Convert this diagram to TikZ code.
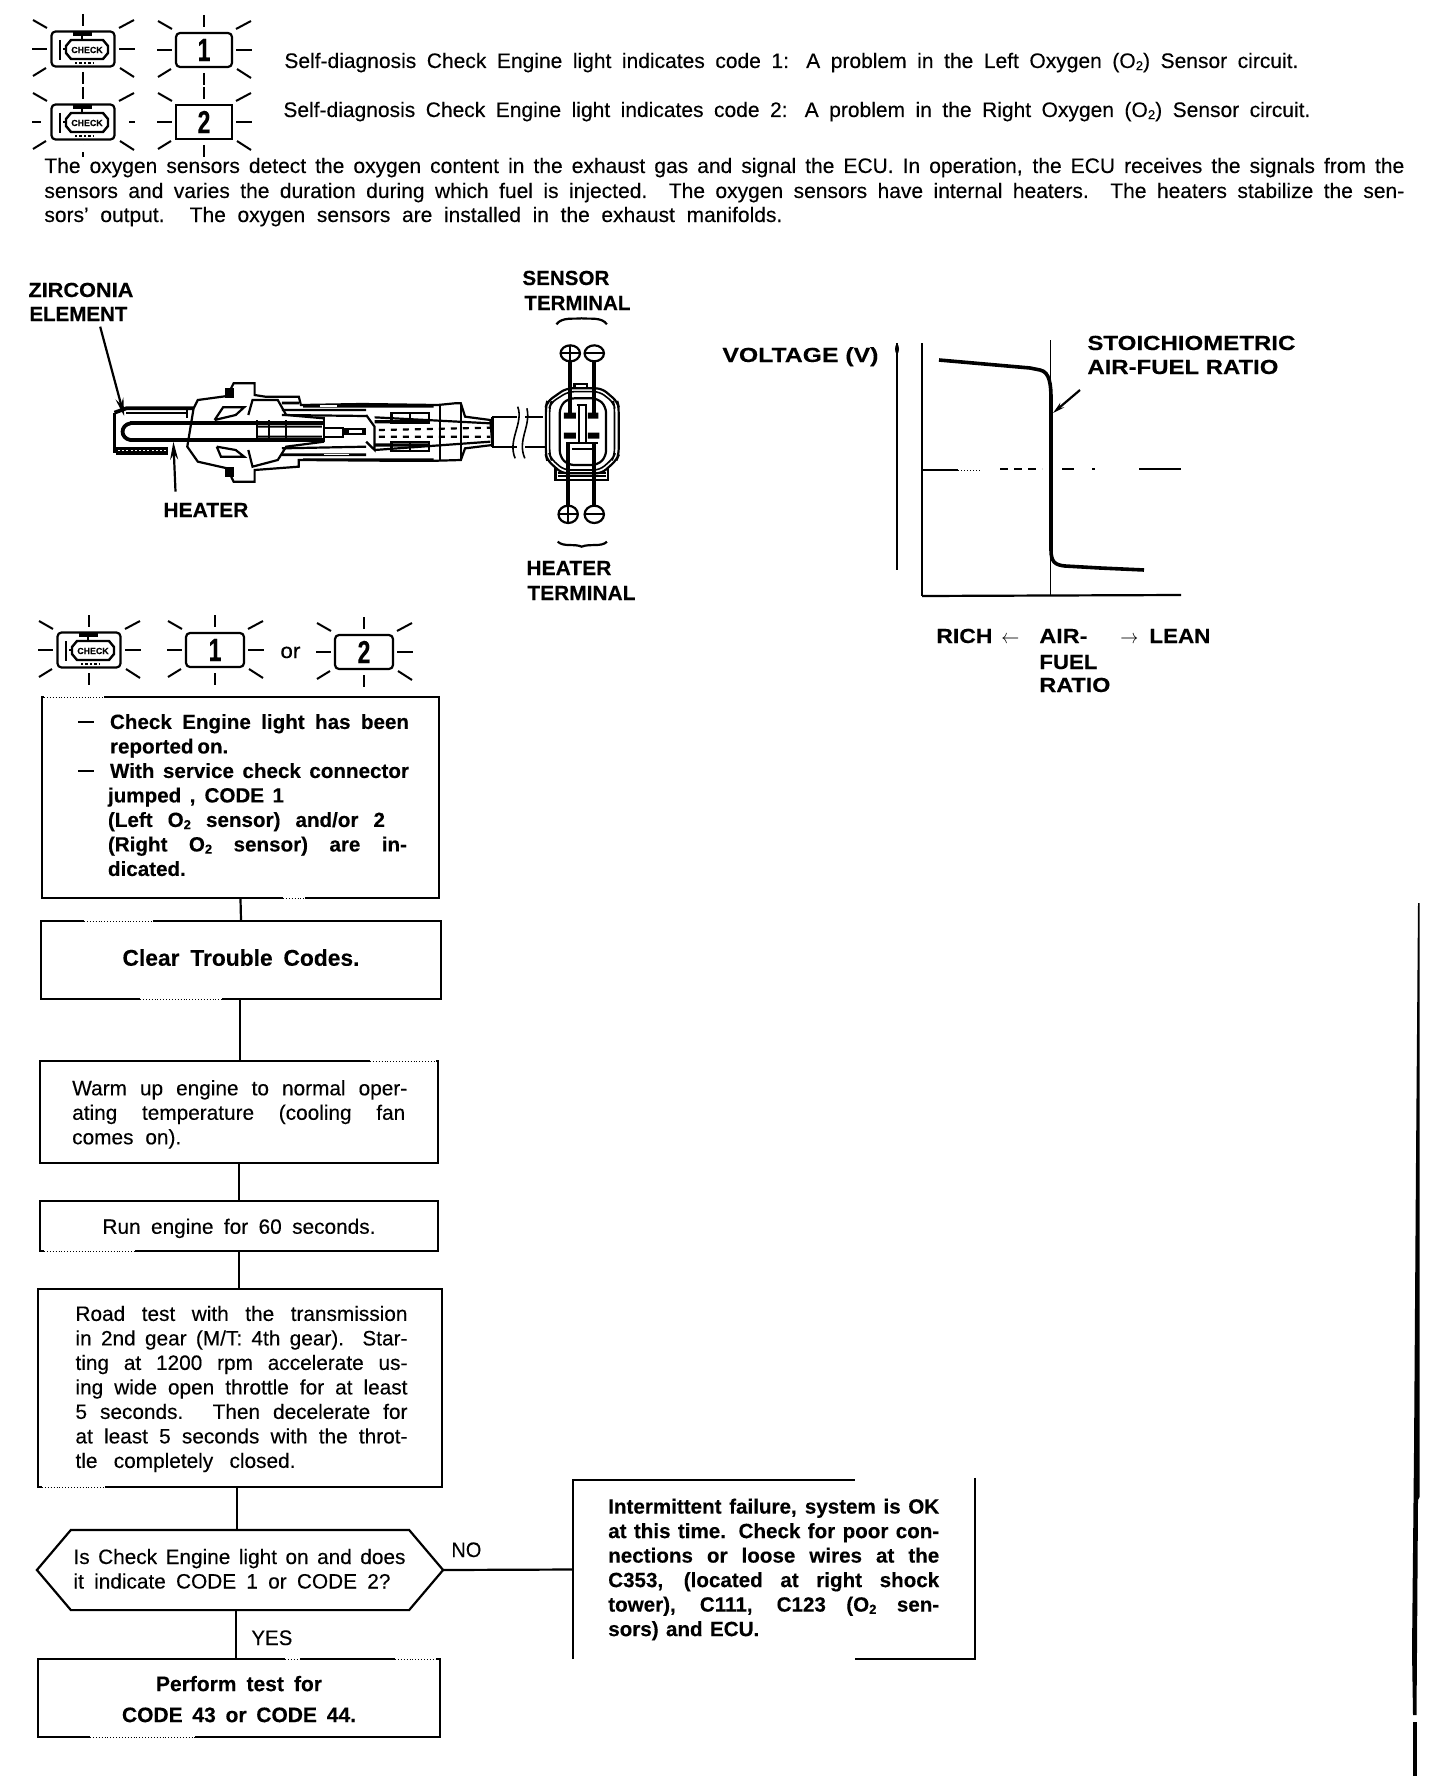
\documentclass[tikz,border=0pt]{standalone}
\usepackage{fontspec}
\setmainfont{Liberation Sans}[FakeBold=0.25,BoldFeatures={FakeBold=0.25}]
\usetikzlibrary{arrows.meta}
\newcommand{\PX}[1]{\dimexpr #1pt/2\relax}
\newcommand{\jl}[2]{\makebox[\PX{#1}][s]{#2}}
\newcommand{\fitw}[2]{\resizebox{\PX{#1}}{\height}{#2}}
\newcommand{\vmove}[2]{\raisebox{#1}[\height][\depth]{#2}}
\newcommand{\Otwo}{O\raisebox{-0.2ex}{\fontsize{6.5}{6.5}\selectfont 2}}
\newcommand{\blockx}[3]{\hspace*{\PX{#1}}\begin{minipage}{\PX{#2}}\raggedright #3\end{minipage}}
\newcommand{\bignum}[1]{\scalebox{.72}[1]{\fontsize{16}{16}\selectfont\bfseries #1}}
\newcommand{\worn}[3]{\draw[white,line width=1.7pt] (#1,#3)--(#2,#3); \draw[line width=.45pt,densely dotted] (#1,#3)--(#2,#3);}
\newcommand{\rays}[3]{%
  \begin{scope}[shift={(#1,#2)},line width=1pt]
  \draw (0,-35)--(0,-23) (0,23)--(0,35);
  \draw (-#3-19,0)--(-#3-4,0) (#3+4,0)--(#3+20,0);
  \draw (-#3-18,-29)--(-#3-4,-21) (#3+4,-21)--(#3+19,-29);
  \draw (-#3-18,27)--(-#3-5,19) (#3+5,19)--(#3+19,28);
  \end{scope}}
\newcommand{\engine}[3]{%
  \node[iconbox,minimum width=31.5pt,minimum height=17.5pt] (#1) at (#2,#3) {};
  \begin{scope}[shift={(#2,#3)}]
  \draw[line width=1.2pt] (-23,-9)--(-23,11);
  \draw[line width=1.2pt] (-20,0)--(-17,0);
  \draw[line width=1.2pt] (-17,-3)--(-12,-9)--(20,-9)--(25,-3)--(25,4)--(20,10)--(-12,10)--(-17,4)--cycle;
  \draw[line width=1.8pt] (-10,-15)--(9,-15);
  \draw[line width=1.2pt] (-1,-15)--(-1,-9);
  \draw[line width=1.2pt,densely dotted] (-8,14)--(10,14);
  \node[inner sep=0pt,font=\fontsize{4.4}{5}\selectfont\bfseries] (#1t) at (4,1) {CHECK};
  \end{scope}}
\tikzset{
  flow/.style={draw,line width=1.1pt,inner sep=0pt,font=\fontsize{10.4}{12.25}\selectfont},
  flowb/.style={flow,font=\fontsize{10.3}{12.25}\selectfont\bfseries},
  conn/.style={line width=1.1pt},
  txt/.style={inner sep=0pt,anchor=base west,font=\fontsize{10.5}{12}\selectfont},
  lab/.style={inner sep=0pt,anchor=base west,font=\fontsize{10.2}{12}\selectfont\bfseries},
  iconbox/.style={draw,line width=1.1pt,rounded corners=2pt,inner sep=0pt},
  numbox/.style={iconbox,minimum width=28pt,minimum height=17pt},
  sth/.style={line width=0.8pt},
  sm/.style={line width=1.1pt},
  sk/.style={line width=1.9pt},
}
\begin{document}
\begin{tikzpicture}[x=0.5pt,y=-0.5pt]
\useasboundingbox (0,0) rectangle (1440,1776);
\fill[white] (0,0) rectangle (1440,1776);

% top icons
\rays{83}{49}{32}\engine{e1}{83}{49}
\rays{204}{50}{28}\node[numbox] (n1) at (204,50) {\bignum{1}};
\rays{83}{122}{32}\engine{e2}{83}{122}
\rays{204}{122}{28}\node[numbox,rounded corners=0pt] (n2) at (204,122) {\bignum{2}};
\draw[white,line width=2pt] (40,122)--(49,122) (117,122)--(129,122) (83,145)--(83,152);
\draw[line width=.8pt,densely dotted] (33,122)--(41,122);

% top text
\node[txt] (s1) at (284,68) {\jl{1014}{Self-diagnosis Check Engine light indicates code 1: A problem in the Left Oxygen (\Otwo) Sensor circuit.}};
\node[txt] (s2) at (283,117) {\jl{1027}{Self-diagnosis Check Engine light indicates code 2: A problem in the Right Oxygen (\Otwo) Sensor circuit.}};
\node[txt] (p1) at (44,173) {\jl{1360}{The oxygen sensors detect the oxygen content in the exhaust gas and signal the ECU. In operation, the ECU receives the signals from the}};
\node[txt] (p2) at (44,198) {\jl{1360}{sensors and varies the duration during which fuel is injected. The oxygen sensors have internal heaters. The heaters stabilize the sen-}};
\node[txt] (p3) at (44,222) {\jl{738}{sors' output. The oxygen sensors are installed in the exhaust manifolds.}};

% sensor labels
\node[lab] (z1) at (28,297) {\fitw{105}{ZIRCONIA}};
\node[lab] (z2) at (29,321) {\fitw{98}{ELEMENT}};
\node[lab] (h1) at (163,517) {\fitw{85}{HEATER}};
\node[lab] (st1) at (522,285) {\fitw{87}{SENSOR}};
\node[lab] (st2) at (524,310) {\fitw{106}{TERMINAL}};
\node[lab] (ht1) at (526,575) {\fitw{85}{HEATER}};
\node[lab] (ht2) at (527,600) {\fitw{108}{TERMINAL}};

% sensor drawing (coordinates of a local grid)
\begin{scope}[shift={(0,260)},x=0.21044pt,y=-0.16667pt]
  % shell
  \draw[sm,fill=white] (445,560)--(460,445)--(470,420)--(540,408)--(555,370)--(605,370)--(605,405)--(630,410)--(710,410)--(715,435)--(860,432)--(1040,435)--(1080,430)--(1095,430)--(1105,470)--(1165,480)--(1170,555)--(1105,565)--(1095,600)--(1040,602)--(910,602)--(710,600)--(710,620)--(605,630)--(605,665)--(555,665)--(540,625)--(470,605)--cycle;
  % wire and break
  \draw[sm] (1170,470)--(1290,470) (1170,560)--(1295,560) (1170,470)--(1170,560);
  \fill[white] (1228,440) rectangle (1248,595);
  \draw[sth] (1230,440) .. controls (1245,490) and (1205,540) .. (1224,595);
  \draw[sth] (1252,445) .. controls (1262,500) and (1228,540) .. (1247,595);
  % tip
  \draw[sk] (272,458)--(272,580);
  \draw[sk] (272,458)--(300,445)--(460,445);
  \draw[sm] (300,458)--(445,458) (445,445)--(445,475);
  \fill (275,562) rectangle (400,570);
  \draw[sk] (275,580)--(400,580);
  \draw[sm,densely dotted] (275,574)--(400,574);
  % inner tube
  \draw[sk] (310,490)--(770,490) (310,540)--(770,540);
  \draw[sk] (310,490) .. controls (285,495) and (285,535) .. (310,540);
  \draw[sm] (610,480)--(610,545) (640,480)--(640,545) (680,480)--(680,545);
  \fill (610,497) rectangle (765,503) (610,527) rectangle (765,533);
  \draw[sm] (770,470)--(770,545) (770,503)--(815,503)--(815,530)--(770,530);
  \fill (815,505) rectangle (870,525);
  \fill[white] (830,510) rectangle (860,520);
  % upper details
  \draw[sm] (510,480)--(530,442)--(580,442)--(560,465)--(510,480);
  \fill (535,385) rectangle (555,415);
  \draw[sm] (590,465)--(600,420)--(660,420)--(680,465)--(770,475);
  \fill (670,425) rectangle (710,433) (720,435) rectangle (1030,443);
  \fill[white] (760,436) rectangle (800,441);
  \draw[sm] (670,450)--(870,450) (670,465)--(870,468);
  % lower details
  \draw[sm] (515,560)--(525,590)--(580,590)--(560,570)--(515,560);
  \fill (535,620) rectangle (555,650);
  \draw[sm] (590,570)--(600,620)--(660,600)--(680,560)--(770,545);
  \fill (670,580) rectangle (870,588) (720,595) rectangle (1030,602);
  \fill[white] (770,582) rectangle (830,586);
  \draw[sm] (670,565)--(870,560);
  % rear details
  \draw[sm] (870,465)--(890,500)--(890,570)--(870,545);
  \fill (890,480) rectangle (1020,490) (890,550) rectangle (1020,560);
  \draw[sm] (930,458) rectangle (1020,490) (975,458)--(975,490);
  \draw[sm] (930,545) rectangle (1020,572) (975,545)--(975,572);
  \draw[sm] (890,472)--(1165,490) (890,570)--(1165,545);
  \draw[sm,dashed] (900,510)--(1165,503) (900,530)--(1165,530);
  \draw[sth] (1045,435)--(1045,600) (1095,435)--(1095,600);
  % connector
  \draw[sm] (1320,610)--(1320,660)--(1445,660)--(1445,610);
  \fill (1325,618) rectangle (1440,630);
  \draw[sm] (1325,638)--(1440,638) (1325,648)--(1440,648);
  \draw[sm,rounded corners=3pt,fill=white] (1297,440)--(1300,425)--(1345,385)--(1430,385)--(1467,425)--(1470,440)--(1470,585)--(1465,600)--(1430,640)--(1335,640)--(1300,600)--(1297,585)--cycle;
  \draw[sth,rounded corners=3pt] (1306,440)--(1309,428)--(1350,395)--(1425,395)--(1458,428)--(1460,440)--(1460,585)--(1456,596)--(1425,630)--(1340,630)--(1309,596)--(1306,585)--cycle;
  \draw[sm,rounded corners=3pt] (1330,440)--(1350,415)--(1420,415)--(1440,440)--(1440,590)--(1420,615)--(1350,615)--(1330,590)--cycle;
  \draw[sm] (1365,385)--(1365,372)--(1395,372)--(1395,385);
  \fill (1340,458) rectangle (1368,476) (1397,458) rectangle (1422,476);
  \fill (1340,518) rectangle (1368,536) (1397,518) rectangle (1424,536);
  \draw[sm] (1372,435)--(1395,435) (1375,435)--(1375,550) (1392,435)--(1392,550);
  \draw[sm] (1350,550)--(1420,550) (1360,568)--(1415,568);
  % terminals
  \draw[sm] (1355,280) ellipse [x radius=23,y radius=24];
  \draw[sm] (1412,280) ellipse [x radius=23,y radius=24];
  \draw[sm] (1332,280)--(1378,280) (1355,256)--(1355,304) (1389,280)--(1435,280);
  \draw[sm] (1350,763) ellipse [x radius=23,y radius=26];
  \draw[sm] (1412,763) ellipse [x radius=23,y radius=26];
  \draw[sm] (1327,763)--(1373,763) (1350,737)--(1350,789) (1389,763)--(1435,763);
  \draw[sk] (1355,304)--(1355,460) (1412,304)--(1412,460);
  \draw[sk] (1350,737)--(1350,545) (1412,737)--(1412,545);
  % braces
  \draw[sm] (1322,193) .. controls (1335,170) and (1365,178) .. (1382,175) .. controls (1400,178) and (1430,170) .. (1442,193);
  \draw[sm] (1325,845) .. controls (1340,862) and (1365,850) .. (1382,860) .. controls (1400,850) and (1430,862) .. (1442,845);
  % leaders
  \coordinate (ztip) at (295,468);
  \coordinate (htip) at (412,545);
  \coordinate (zfoot) at (238,200);
  \coordinate (hfoot) at (417,695);
  \draw[sm,-{Stealth[length=9pt,width=4pt]}] (zfoot)--(ztip);
  \draw[sm,-{Stealth[length=9pt,width=4pt]}] (hfoot)--(htip);
\end{scope}

% graph
\node[lab] (vlt) at (722,362) {\fitw{156}{VOLTAGE (V)}};
\coordinate (yt) at (897,343);
\coordinate (yb) at (897,570);
\draw[sm] (yt)--(yb);
\fill (897,349) ellipse [x radius=1pt,y radius=2.5pt];
\coordinate (o) at (922,596);
\coordinate (ot) at (922,343);
\coordinate (xe) at (1181,595);
\draw[line width=.7pt] (ot)--(o);
\draw[sm] (o)--(xe);
\coordinate (st) at (1050,340);
\coordinate (sb) at (1050,596);
\draw[line width=.5pt] (st)--(sb);
\draw[line width=.9pt] (922,470)--(958,470) (1139,469)--(1181,469);
\draw[line width=.5pt,densely dotted] (958,470)--(980,470);
\draw[line width=.7pt,dash pattern=on 4pt off 3pt] (1000,469)--(1042,469);
\draw[line width=.8pt] (1062,469)--(1074,469) (1092,469)--(1095,469);
\draw[line width=1.8pt] (939,360)--(1030,368)--(1040,370) .. controls (1050,372) and (1051,385) .. (1051,400)--(1051,550) .. controls (1051,562) and (1055,565) .. (1065,566)--(1100,568)--(1144,570);
\coordinate (la) at (1080,390);
\coordinate (lb) at (1053,413);
\draw[sm,-{Stealth[length=6pt,width=3pt]}] (la)--(lb);
\node[lab] (g1) at (1087,350) {\fitw{208}{STOICHIOMETRIC}};
\node[lab] (g2) at (1087,374) {\fitw{191}{AIR-FUEL RATIO}};
\node[lab] (g3) at (936,643) {\fitw{56}{RICH}};
\node[inner sep=0pt,anchor=base west] (g4) at (1001,643) {\fitw{18}{$\leftarrow$}};
\node[lab] (g5) at (1039,643) {\fitw{48}{AIR-}};
\node[inner sep=0pt,anchor=base west] (g6) at (1120,643) {\fitw{18}{$\rightarrow$}};
\node[lab] (g7) at (1149,643) {\fitw{61}{LEAN}};
\node[lab] (g8) at (1039,669) {\fitw{58}{FUEL}};
\node[lab] (g9) at (1039,692) {\fitw{71}{RATIO}};

% code row above the flow chart
\rays{89}{650}{32}\engine{e3}{89}{650}
\rays{215}{650}{29}\node[numbox,minimum width=29pt] (n3) at (215,650) {\bignum{1}};
\node[txt] (orw) at (280,658) {\fitw{20}{or}};
\rays{364}{652}{29}\node[numbox,minimum width=29pt] (n4) at (364,652) {\bignum{2}};

% flow chart
\node[flowb,minimum width=198.5pt,minimum height=100.5pt] (b1) at (240.5,797.5) {\vmove{1.2pt}{\blockx{6}{331}{%
  \makebox[\PX{32}][l]{\rule[.3em]{\PX{16}}{.7pt}}\jl{299}{Check Engine light has been}\\
  \hspace*{\PX{32}}\jl{112}{reported on.}\\
  \makebox[\PX{32}][l]{\rule[.3em]{\PX{16}}{.7pt}}\jl{299}{With service check connector}\\
  \hspace*{\PX{30}}\jl{176}{jumped , CODE 1}\\
  \hspace*{\PX{30}}\jl{277}{(Left \Otwo{} sensor) and/or 2}\\
  \hspace*{\PX{30}}\jl{299}{(Right \Otwo{} sensor) are in-}\\
  \hspace*{\PX{30}}\jl{81}{dicated.}}}};
\node[flowb,font=\fontsize{11.4}{13}\selectfont\bfseries,minimum width=200pt,minimum height=39pt] (b2) at (241,960) {\vmove{1.2pt}{\jl{237}{Clear Trouble Codes.}}};
\node[flow,minimum width=199pt,minimum height=51pt] (b3) at (239,1112) {\vmove{-1.2pt}{\blockx{1.5}{335}{%
  \jl{335}{Warm up engine to normal oper-}\\
  \jl{333}{ating temperature (cooling fan}\\
  \jl{109}{comes on).}}}};
\node[flow,minimum width=199pt,minimum height=25pt] (b4) at (239,1226) {\vmove{-1.2pt}{\jl{273}{Run engine for 60 seconds.}}};
\node[flow,minimum width=202pt,minimum height=99pt] (b5) at (240,1388) {\vmove{-.5pt}{\blockx{3}{332}{%
  \jl{332}{Road test with the transmission}\\
  \jl{332}{in 2nd gear (M/T: 4th gear). Star-}\\
  \jl{332}{ting at 1200 rpm accelerate us-}\\
  \jl{332}{ing wide open throttle for at least}\\
  \jl{332}{5 seconds. Then decelerate for}\\
  \jl{332}{at least 5 seconds with the throt-}\\
  \jl{220}{tle completely closed.}}}};
\node[flow,draw=none,minimum width=202pt,minimum height=39pt] (hx) at (240,1570) {\vmove{.6pt}{\blockx{-1}{332}{%
  \jl{332}{Is Check Engine light on and does}\\
  \jl{317}{it indicate CODE 1 or CODE 2?}}}};
\draw[conn] (hx.west)--([xshift=17pt]hx.north west)--([xshift=-17pt]hx.north east)--(hx.east)--([xshift=-17pt]hx.south east)--([xshift=17pt]hx.south west)--cycle;
\node[flowb,font=\fontsize{10.5}{15.5}\selectfont\bfseries,minimum width=201pt,minimum height=39pt] (b6) at (239,1698) {\vmove{-1.2pt}{\begin{tabular}{@{}c@{}}\jl{166}{Perform test for}\\\jl{234}{CODE 43 or CODE 44.}\end{tabular}}};
\node[flowb,draw=none,minimum width=200pt,minimum height=88.5pt] (rb) at (774,1569.5) {\blockx{-0.5}{331}{%
  \jl{331}{Intermittent failure, system is OK}\\
  \jl{331}{at this time. Check for poor con-}\\
  \jl{331}{nections or loose wires at the}\\
  \jl{331}{C353, (located at right shock}\\
  \jl{331}{tower), C111, C123 (\Otwo{} sen-}\\
  \jl{151}{sors) and ECU.}}};
\draw[conn] (rb.south west)--(rb.north west)--([xshift=-60pt]rb.north east);
\draw[conn] ([yshift=1pt]rb.north east)--(rb.south east)--([xshift=-60pt]rb.south east);

\draw[conn] (b1.south)--(b2.north);
\draw[conn] ([xshift=-.5pt]b2.south)--([xshift=.5pt]b3.north);
\draw[conn] (b3.south)--(b4.north);
\draw[conn] (b4.south)--([xshift=-.5pt]b5.north);
\draw[conn] ([xshift=-1.5pt]b5.south)--([xshift=-1.5pt]hx.north);
\draw[conn] ([xshift=-2pt]hx.south)--([xshift=-1.5pt]b6.north);
\draw[conn] (hx.east)--(rb.west);
\node[txt] (yes) at (251,1645) {\fitw{41}{YES}};
\node[txt] (no) at (451,1557) {\fitw{30}{NO}};

% scan wear on the box edges
\worn{44}{104}{697}
\worn{283}{305}{898}
\worn{84}{153}{921}
\worn{140}{222}{999}
\worn{370}{436}{1061}
\worn{44}{135}{1251}
\worn{42}{105}{1487}
\worn{90}{195}{1737}
\worn{285}{300}{1659}
\worn{395}{436}{1659}

% scan edge at the right
\fill (1418,903)--(1419.5,903)--(1419.5,1497)--(1418,1500)--(1417,1650)--(1416.5,1715)--(1413,1715)--(1412,1651)--(1414,1451)--(1416,1160)--cycle;
\fill (1413,1722)--(1416.5,1722)--(1416.5,1776)--(1413,1776)--cycle;
\end{tikzpicture}
\end{document}
